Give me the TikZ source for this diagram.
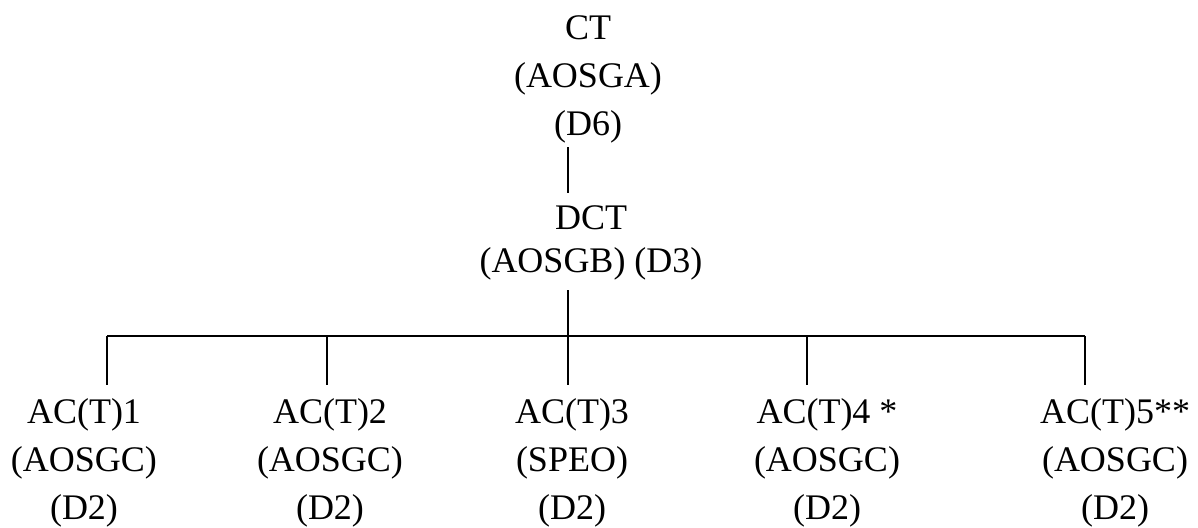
\documentclass[tikz,border=0pt]{standalone}
\usepackage{fontspec}
\setmainfont{Liberation Serif}
\usetikzlibrary{positioning}

\begin{document}
\begin{tikzpicture}[
  x=0.5pt, y=-0.5pt,
  unit/.style={align=center, inner sep=0pt, anchor=north, font=\fontsize{18}{24}\selectfont},
  link/.style={line width=1.2pt}
]
\useasboundingbox (0,0) rectangle (1198,527);
\node[unit] (ct) at (588,15) {CT\\(AOSGA)\\(D6)};
\node[unit, font=\fontsize{18}{21.5}\selectfont] (dct) at (591,205) {DCT\\(AOSGB) (D3)};
\coordinate (trunk) at (568,336);
\draw[link] ([yshift=-2pt]ct.south -| trunk) -- ([yshift=6pt]dct.north -| trunk);
\draw[link] ([yshift=-5pt]dct.south -| trunk) -- (trunk);
% bottom row
\foreach \name/\tx/\dx/\head/\role in {ac1/84/107/AC(T)1/AOSGC, ac2/330/327/AC(T)2/AOSGC,
    ac3/572/568/AC(T)3/SPEO, ac4/827/807/AC(T)4 */AOSGC, ac5/1115/1085/AC(T)5**/AOSGC}{
  \node[unit] (\name) at (\tx,398) {\head\\(\role)\\(D2)};
  \coordinate (b\name) at (\dx,336);
  \draw[link] (b\name) -- ([yshift=6.5pt]\name.north -| b\name);
}
\draw[link] (bac1) -- (bac5);
\end{tikzpicture}
\end{document}
